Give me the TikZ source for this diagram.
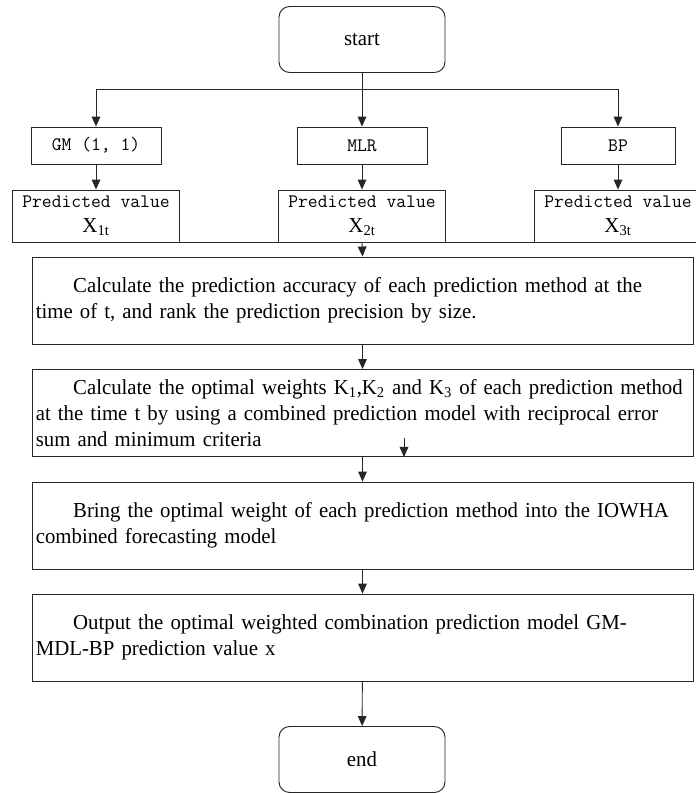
\documentclass[tikz,border=0pt]{standalone}
\usepackage{fontspec}
\setmainfont{Liberation Serif}[FakeStretch=0.975]
\usetikzlibrary{arrows.meta}

\begin{document}
\begin{tikzpicture}[x=0.75pt, y=-0.75pt, line width=0.7pt, draw=black!85,
        box/.style={draw, rectangle, inner sep=2pt},
        rbox/.style={box, rounded corners=8pt, minimum width=124.5pt, minimum height=49.5pt, font=\fontsize{16pt}{19.5pt}\selectfont},
        mbox/.style={box, align=center, font=\ttfamily\fontsize{14.3pt}{18.75pt}\selectfont},
        pvbox/.style={mbox, minimum width=125.25pt, minimum height=39pt, inner ysep=1pt},
        bigbox/.style={box, minimum width=495.75pt, minimum height=65.25pt, text width=490pt, inner xsep=2.5pt, align=left, font=\fontsize{16pt}{19.5pt}\selectfont},
        arr/.style={-{Triangle[length=7.5pt, width=6.5pt]}}]
    \useasboundingbox (0,0) rectangle (696,793);

    \node[rbox] (start) at (362,39.5) {start};

    \node[mbox, minimum width=97.5pt, minimum height=27.75pt] (gm) at (96,145.5) {GM (1, 1)};
    \node[mbox, minimum width=97.5pt, minimum height=27.75pt] (mlr) at (362,145.5) {MLR};
    \node[mbox, minimum width=85.5pt, minimum height=27.75pt] (bp) at (618,145.5) {BP};

    \node[pvbox] (pv1) at (96,216) {Predicted value\\{\rmfamily\fontsize{16pt}{19pt}\selectfont X\textsubscript{1t}}};
    \node[pvbox] (pv2) at (362,216) {Predicted value\\{\rmfamily\fontsize{16pt}{19pt}\selectfont X\textsubscript{2t}}};
    \node[pvbox] (pv3) at (618,216) {Predicted value\\{\rmfamily\fontsize{16pt}{19pt}\selectfont X\textsubscript{3t}}};

    \node[bigbox] (acc) at (362.5,300.5) {\hspace*{28pt}Calculate the prediction accuracy of each prediction method at the\\time of t, and rank the prediction precision by size.};
    \node[bigbox] (wgt) at (362.5,413) {\hspace*{28pt}\mbox{Calculate the optimal weights K\textsubscript{1},K\textsubscript{2} and K\textsubscript{3} of each prediction method}\\at the time t by using a combined prediction model with reciprocal error\\sum and minimum criteria};
    \node[bigbox] (iowha) at (362.5,525.5) {\hspace*{28pt}Bring the optimal weight of each prediction method into the IOWHA\\combined forecasting model};
    \node[bigbox] (output) at (362.5,637.5) {\hspace*{28pt}Output the optimal weighted combination prediction model GM-\\MDL-BP prediction value x};

    \node[rbox] (stop) at (362,759.5) {end};

    % branches
    \coordinate (fork) at (362,89);
    \draw (start.south) -- (fork);
    \draw[arr] (fork) -| (gm.north);
    \draw[arr] (fork) -- (mlr.north);
    \draw[arr] (fork) -| (bp.north);

    \draw[arr] (gm) -- (pv1);
    \draw[arr] (mlr) -- (pv2);
    \draw[arr] (bp) -- (pv3);

    % join
    \draw (pv1.south west) -- (pv3.south east);
    \draw[arr] (pv2.south) -- (acc.north);

    \draw[arr] (acc) -- (wgt);
    \coordinate (tick) at (404,438);
    \draw[arr] (tick) -- (tick |- wgt.south);
    \draw[arr] (wgt) -- (iowha);
    \draw[arr] (iowha) -- (output);
    \draw[arr] (output) -- (stop);
\end{tikzpicture}
\end{document}
